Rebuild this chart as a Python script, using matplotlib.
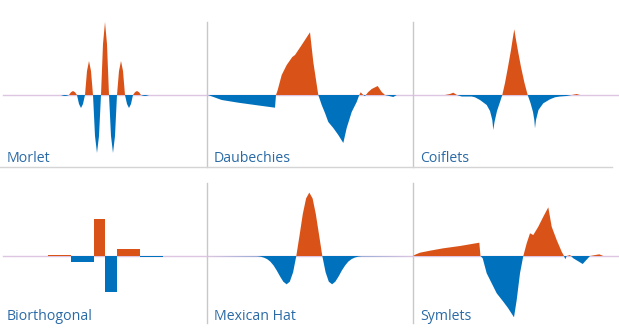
import numpy as np
import matplotlib.pyplot as plt

plt.rcParams['font.family'] = 'Open Sans'

orange = '#d95319'
blue = '#0072bd'
label_color = '#2a6aa6'

names = ['Morlet', 'Daubechies', 'Coiflets', 'Biorthogonal', 'Mexican Hat', 'Symlets']

# morlet
morlet_x = [0, 61, 63, 65, 67, 69, 71, 73, 75, 77, 79, 81, 83, 85, 87, 89, 91, 93, 95, 97, 99, 101,
            103, 105, 107, 109, 111, 113, 115, 117, 119, 121, 123, 125, 127, 129, 131, 133, 135,
            137, 139, 141, 143, 145, 147, 149, 206]
morlet_y = [0, 0, -0.7, -1, -0.7, 0, 2.8, 4, 2.8, 0, -9, -13, -9, 0, 24, 34, 24, 0, -41, -58, -41, 0,
            51, 73, 51, 0, -41, -58, -41, 0, 24, 34, 24, 0, -9, -13, -9, 0, 2.8,
            4, 2.8, 0, -0.7, -1, -0.7, 0, 0]

# daubechies
daub_x = [1, 14.7, 31.3, 48, 68, 69, 70.7, 74.7, 79.7, 85.3, 88, 94.7, 103, 106.3, 111.3, 114.7,
          118, 121.3, 126.3, 131.3, 136.3, 139.7, 144.7, 149.7, 152.3, 153.7, 156.3, 158,
          161.3, 164.7, 170.7, 174.7, 178, 186.3, 189.7, 206]
daub_y = [0, -5, -7.7, -10, -12.7, 0, 5, 20, 30, 38, 40, 50, 62.7, 33, 0, -10,
          -18, -27, -33, -40, -48, -33, -17, -7, 0, 2.7, 0, -1,
          3, 6, 9, 3, 0, -2, 0, 0]

# coiflets
coif_x = [0, 32, 37, 40.3, 44, 48.7, 58.7, 62, 67, 73.7, 77, 79.3, 80.3, 81.5, 84, 87, 89.3,
          92, 95, 98, 100, 101.3, 102.7, 105, 108, 111.5, 114.7, 117.5, 120, 121.3, 122,
          123, 125.5, 130.3, 137, 142, 147, 153.7, 158.7, 163.7, 167, 206]
coif_y = [0, 0, 1, 2.3, 0, -1.5, -1.5, -2.3, -5, -10, -16, -25, -35, -27, -16, -7, 0,
          12, 28, 45, 58, 65.7, 57, 44, 28, 12, 0, -8, -17, -25, -33.3,
          -25, -15, -8.3, -4.3, -2.3, -1.5, -1, 0, 1, 0, 0]

# biorthogonal (step heights)
bior_edges = [47.5, 59, 70.5, 82, 93.5, 105, 116.5, 128, 139.5, 151]
bior_vals = [1.3, 1.3, -6.3, -6.3, 36.7, -36.3, 6.7, 6.7, -1, -1]

# mexican hat
mexh_x = [0, 50.3, 53.6, 56.8, 60.1, 63.3, 66.6, 69.8, 73.1, 76.3, 79.6, 82.8, 86.1, 89.3, 92.6,
          95.8, 99.1, 102.3, 105.6, 108.8, 112.1, 115.3, 118.6, 121.8, 125.1, 128.3, 131.6,
          134.8, 138.1, 141.3, 144.6, 147.8, 151.1, 154.3, 206]
mexh_y = [0, -0.3, -0.7, -1.6, -3.1, -5.6, -9.5, -14.6, -20.5, -25.7, -28.3, -25.7, -16.3, 0, 20.9,
          42.0, 57.6, 63.4, 57.6, 42.0, 20.9, 0, -16.3, -25.7, -28.3, -25.7, -20.5,
          -14.6, -9.5, -5.6, -3.1, -1.6, -0.7, -0.3, 0]

# symlets
sym_x = [0, 3, 7, 17, 30.3, 47, 66.3, 67.5, 69.7, 73.7, 78.7, 83.7, 90.3, 95, 101, 103.7, 107,
         110.3, 113.7, 117, 120.3, 125.3, 130.3, 135.3, 138.7, 143.7, 148.7, 151, 152.3, 153.7,
         157, 160.3, 169.7, 177, 186.3, 190.3, 206]
sym_y = [0, 1.7, 3.3, 5.3, 7.7, 10, 13.3, 0, -2.3, -17.3, -27.3, -37.3, -45.7, -52, -61.3, -44, -17.3,
         0, 12.7, 22.7, 21, 29.3, 39.3, 48.7, 29.3, 16, 4.3, 0, -3.3, 0,
         1, -2.3, -8, 0, 1.7, 0, 0]

curves = {'Morlet': (morlet_x, morlet_y), 'Daubechies': (daub_x, daub_y),
          'Coiflets': (coif_x, coif_y), 'Mexican Hat': (mexh_x, mexh_y),
          'Symlets': (sym_x, sym_y)}

W, H = 619, 336
fig = plt.figure(figsize=(W / 100, H / 100), dpi=100)

# background: separators, zero lines, labels (pixel coords)
bg = fig.add_axes([0, 0, 1, 1])
bg.set_xlim(0, W)
bg.set_ylim(H, 0)
bg.axis('off')
for yz in [95, 256]:
    bg.plot([3, W], [yz, yz], color='#dcc6e2', lw=1, zorder=0)
for xs in [207, 413]:
    bg.plot([xs, xs], [22, 167], color='#c8c8c8', lw=1)
    bg.plot([xs, xs], [183, 323], color='#c8c8c8', lw=1)
bg.plot([0, 612], [167, 167], color='#d4d4d4', lw=1)

col_left = [0, 207, 413]
col_w = [207, 206, 206]
rows = [(0, 168, 95), (168, 168, 256)]
label_base = [162, 320]

for i, name in enumerate(names):
    r, c = divmod(i, 3)
    y0, h, zero = rows[r]
    x0, w = col_left[c], col_w[c]
    ax = fig.add_axes([x0 / W, 1 - (y0 + h) / H, w / W, h / H])
    ax.set_xlim(0, w)
    ax.set_ylim(-(y0 + h - zero), zero - y0)
    ax.axis('off')
    ax.patch.set_alpha(0)
    if name == 'Biorthogonal':
        cols = [orange if v > 0 else blue for v in bior_vals]
        ax.bar(bior_edges, bior_vals, width=11.5, align='edge', color=cols, lw=0)
    else:
        x = np.array(curves[name][0])
        y = np.array(curves[name][1])
        ax.fill_between(x, y, 0, where=y >= 0, interpolate=True, color=orange, lw=0)
        ax.fill_between(x, y, 0, where=y <= 0, interpolate=True, color=blue, lw=0)
    bg.text(x0 + 7, label_base[r], name, color=label_color, fontsize=10.2, va='baseline', ha='left')

plt.savefig('out.png', dpi=100)
